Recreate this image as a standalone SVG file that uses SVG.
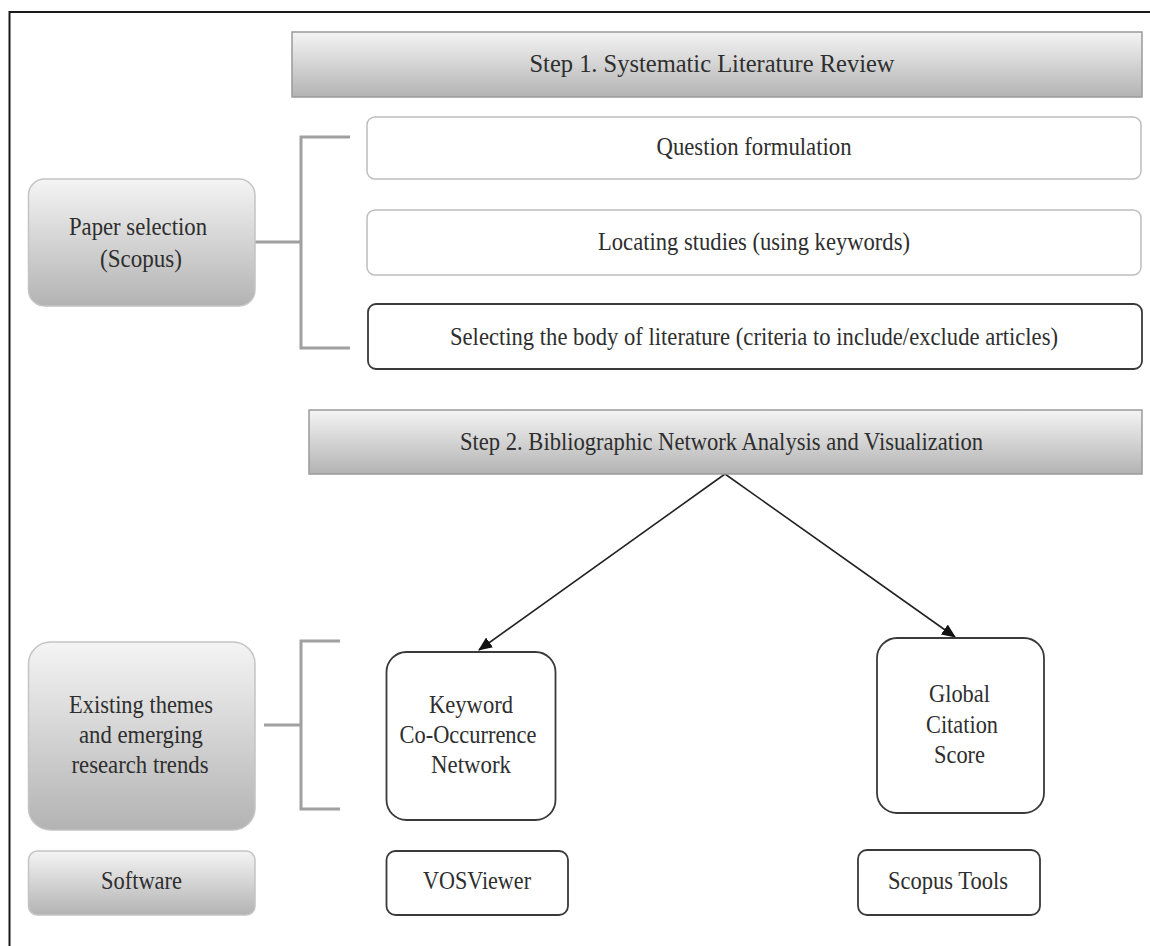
<svg xmlns="http://www.w3.org/2000/svg" width="1150" height="946" viewBox="0 0 1150 946">
<style>
text{font-family:"Liberation Serif","Times New Roman",serif;font-size:26px;fill:#2e2e2e;text-anchor:middle}
.grad{fill:url(#g);stroke:#9a9a9a;stroke-width:1.5}
.gradl{fill:url(#g);stroke:#c4c4c4;stroke-width:1.5}
.light{fill:#fff;stroke:#bdbdbd;stroke-width:1.5}
.dark{fill:#fff;stroke:#3a3a3a;stroke-width:1.8}
.br{fill:none;stroke:#a0a0a0;stroke-width:3}
.arr{fill:none;stroke:#222;stroke-width:1.6;marker-end:url(#ah)}
</style>
<defs>
<linearGradient id="g" x1="0" y1="0" x2="0" y2="1">
<stop offset="0" stop-color="#f4f4f4"/>
<stop offset="1" stop-color="#b3b3b3"/>
</linearGradient>
<marker id="ah" markerWidth="14" markerHeight="12" refX="13" refY="6" orient="auto" markerUnits="userSpaceOnUse">
<path d="M0,0 L14,6 L0,12 Z" fill="#111"/>
</marker>
</defs>
<rect x="0" y="0" width="1150" height="946" fill="#fff"/>
<rect x="9.5" y="12" width="1170" height="960" fill="none" stroke="#1a1a1a" stroke-width="2"/>

<g id="connectors">
<path class="br" d="M350,137 H301 V348 H350"/>
<path class="br" d="M255,242 H301"/>
<path class="br" d="M340,641 H301 V809 H340"/>
<path class="br" d="M264,725 H301"/>
<path class="arr" d="M725,474 L479,650"/>
<path class="arr" d="M725,474 L955,637"/>
</g>

<g id="step1">
<rect x="292" y="32" width="850" height="65" class="grad"/>
<text x="712" y="72" textLength="365" lengthAdjust="spacingAndGlyphs">Step 1. Systematic Literature Review</text>
</g>
<g id="question">
<rect x="367" y="117" width="774" height="62" rx="8" class="light"/>
<text x="754" y="155" textLength="195" lengthAdjust="spacingAndGlyphs">Question formulation</text>
</g>
<g id="locating">
<rect x="367" y="210" width="774" height="65" rx="8" class="light"/>
<text x="754" y="250" textLength="312" lengthAdjust="spacingAndGlyphs">Locating studies (using keywords)</text>
</g>
<g id="selecting">
<rect x="368" y="304" width="774" height="65" rx="8" class="dark"/>
<text x="754" y="345" textLength="608" lengthAdjust="spacingAndGlyphs">Selecting the body of literature (criteria to include/exclude articles)</text>
</g>
<g id="paper">
<rect x="28.5" y="179" width="226.5" height="127" rx="16" class="gradl"/>
<text x="138" y="235" textLength="138" lengthAdjust="spacingAndGlyphs">Paper selection</text>
<text x="141" y="267" textLength="82" lengthAdjust="spacingAndGlyphs">(Scopus)</text>
</g>
<g id="step2">
<rect x="309" y="410" width="833" height="64" class="grad"/>
<text x="721.5" y="450" textLength="523" lengthAdjust="spacingAndGlyphs">Step 2. Bibliographic Network Analysis and Visualization</text>
</g>
<g id="existing">
<rect x="28.5" y="642" width="226.5" height="188" rx="22" class="gradl"/>
<text x="141" y="713" textLength="144" lengthAdjust="spacingAndGlyphs">Existing themes</text>
<text x="141" y="743" textLength="124" lengthAdjust="spacingAndGlyphs">and emerging</text>
<text x="140" y="773" textLength="137" lengthAdjust="spacingAndGlyphs">research trends</text>
</g>
<g id="keyword">
<rect x="386.5" y="652" width="169" height="168" rx="20" class="dark"/>
<text x="471" y="713" textLength="84" lengthAdjust="spacingAndGlyphs">Keyword</text>
<text x="468" y="743" textLength="137" lengthAdjust="spacingAndGlyphs">Co-Occurrence</text>
<text x="471" y="773" textLength="80" lengthAdjust="spacingAndGlyphs">Network</text>
</g>
<g id="global">
<rect x="877" y="638" width="167" height="175" rx="20" class="dark"/>
<text x="959.5" y="702" textLength="61" lengthAdjust="spacingAndGlyphs">Global</text>
<text x="962" y="733" textLength="72" lengthAdjust="spacingAndGlyphs">Citation</text>
<text x="959.5" y="763" textLength="51" lengthAdjust="spacingAndGlyphs">Score</text>
</g>
<g id="software">
<rect x="28.5" y="851" width="226.5" height="64" rx="9" class="gradl"/>
<text x="141.5" y="889" textLength="81" lengthAdjust="spacingAndGlyphs">Software</text>
</g>
<g id="vosviewer">
<rect x="386.5" y="851" width="181.5" height="64" rx="9" class="dark"/>
<text x="477" y="889" textLength="108" lengthAdjust="spacingAndGlyphs">VOSViewer</text>
</g>
<g id="scopustools">
<rect x="858" y="850" width="182" height="65" rx="9" class="dark"/>
<text x="948" y="889" textLength="120" lengthAdjust="spacingAndGlyphs">Scopus Tools</text>
</g>
</svg>
